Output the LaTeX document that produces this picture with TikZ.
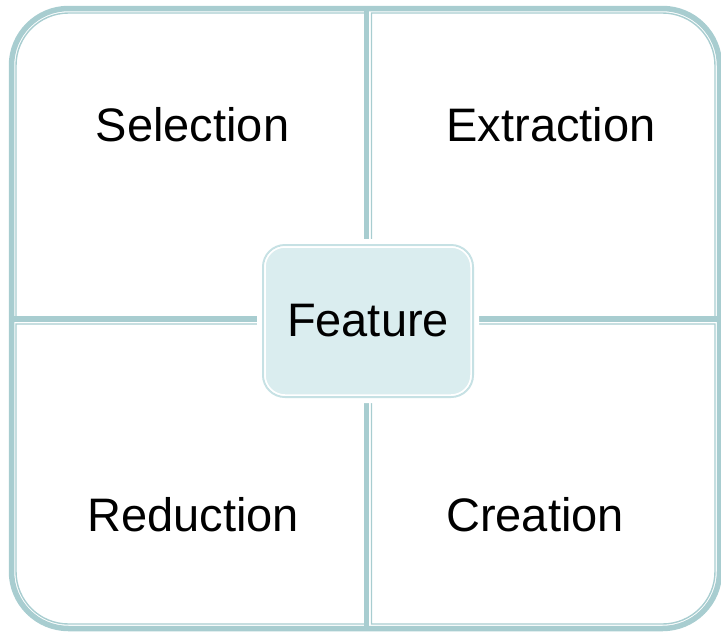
\documentclass[tikz,border=0pt]{standalone}
\usepackage{fontspec}
\setmainfont{Liberation Sans}
\definecolor{bandteal}{RGB}{168,205,208}
\definecolor{featfill}{RGB}{218,237,239}
\definecolor{featrim}{RGB}{198,225,228}
\tikzset{
  band/.style={draw=bandteal, line width=5.5pt},
  rim/.style={draw=bandteal, line width=1.4pt},
  quadtext/.style={font=\fontsize{47}{56}\selectfont, anchor=base, inner sep=0pt},
  featbox/.style={rounded corners=20pt, fill=featfill, draw=white, line width=1.5pt,
    minimum width=206pt, minimum height=148pt, inner sep=0pt, font=\fontsize{47}{56}\selectfont}
}
\begin{document}
\begin{tikzpicture}[x=1pt, y=-1pt]

\useasboundingbox (0,0) rectangle (721,633);

\draw[band, rounded corners=57pt] (11.5,8.5) rectangle (719.5,628.5);

\draw[rim] (16,200) [rounded corners=52.5pt] -- (16,13) -- (200,13) [sharp corners] -- (366,13) -- (366,319) -- (16,319) -- cycle;
\draw[rim] (371.5,200) -- (371.5,13) -- (550,13) [rounded corners=52.5pt] -- (715,13) -- (715,200) [sharp corners] -- (715,319) -- (371.5,319) -- cycle;
\draw[rim] (16,450) -- (16,324) -- (366,324) -- (366,624) -- (200,624) [rounded corners=52.5pt] -- (16,624) -- cycle;
\draw[rim] (371.5,450) -- (371.5,324) -- (715,324) -- (715,450) [rounded corners=52.5pt] -- (715,624) -- (550,624) [sharp corners] -- (371.5,624) -- cycle;

\draw[band] (366.5,8.5) -- (366.5,628.5);
\draw[band] (11.5,319) -- (719.5,319);

\fill[white, rounded corners=28pt] (257,239) rectangle (479,403);
\draw[featrim, line width=2pt, rounded corners=22pt] (263,245) rectangle (473,397);
\node[featbox] (feat) at (368,321) {Feature};

\node[quadtext] (sel) at (192.5,141.5) {Selection};
\node[quadtext] (ext) at (551,141.5) {Extraction};
\node[quadtext] (red) at (193,531) {Reduction};
\node[quadtext] (cre) at (535,531) {Creation};

\end{tikzpicture}
\end{document}
